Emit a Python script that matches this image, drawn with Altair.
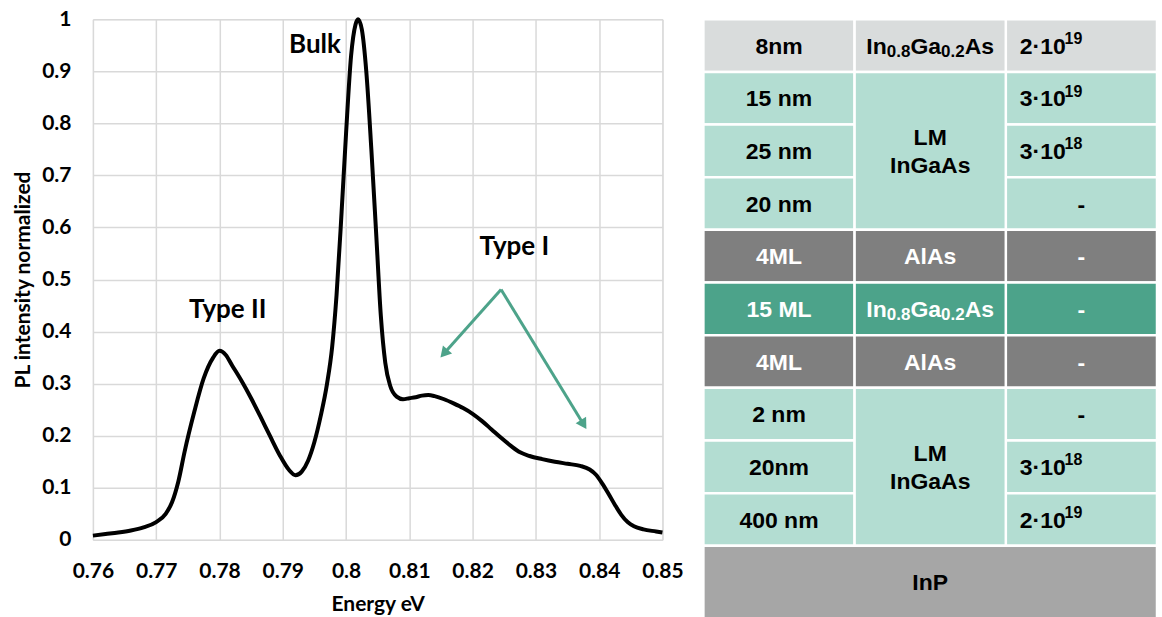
import math
import re
import altair as alt
import pandas as pd

# ---------------- spectrum ----------------
energy = [0.760, 0.762, 0.764, 0.766, 0.768, 0.770, 0.7715, 0.7725, 0.7735, 0.7745, 0.776,
          0.7775, 0.779, 0.780, 0.781, 0.782, 0.7835, 0.785, 0.7865, 0.788, 0.7895,
          0.791, 0.792, 0.793, 0.794, 0.795, 0.796, 0.797, 0.7978, 0.7985, 0.7993,
          0.800, 0.8008, 0.8015, 0.8019, 0.8025, 0.8032, 0.804, 0.8048, 0.8055, 0.8062,
          0.807, 0.808, 0.809, 0.810, 0.811, 0.812, 0.813, 0.814, 0.8155, 0.817,
          0.8185, 0.820, 0.8215, 0.823, 0.8245, 0.826, 0.8275, 0.829, 0.831, 0.833,
          0.835, 0.837, 0.8385, 0.8395, 0.8405, 0.8415, 0.8425, 0.8435, 0.8445, 0.8455,
          0.847, 0.849, 0.850]
intensity = [0.008, 0.011, 0.014, 0.018, 0.024, 0.034, 0.050, 0.072, 0.112, 0.170, 0.245,
             0.310, 0.350, 0.363, 0.355, 0.335, 0.305, 0.272, 0.236, 0.199, 0.163,
             0.134, 0.124, 0.131, 0.152, 0.188, 0.238, 0.300, 0.370, 0.470, 0.630,
             0.780, 0.930, 0.990, 1.000, 0.980, 0.900, 0.750, 0.580, 0.430, 0.340,
             0.295, 0.275, 0.270, 0.272, 0.274, 0.277, 0.278, 0.276, 0.270, 0.262,
             0.253, 0.242, 0.228, 0.212, 0.196, 0.181, 0.168, 0.161, 0.155, 0.150,
             0.146, 0.142, 0.135, 0.125, 0.108, 0.088, 0.067, 0.048, 0.034, 0.026,
             0.020, 0.016, 0.014]

x_ticks = [0.76, 0.77, 0.78, 0.79, 0.80, 0.81, 0.82, 0.83, 0.84, 0.85]
y_ticks = [0, 0.1, 0.2, 0.3, 0.4, 0.5, 0.6, 0.7, 0.8, 0.9, 1]

peak_names = ["Type II", "Bulk", "Type I"]
peak_name_energy = [0.7813, 0.7951, 0.8266]
peak_name_intensity = [0.441, 0.950, 0.562]

arrow_root_energy = 0.8245
arrow_root_intensity = 0.481
arrow_tip_energy = [0.8149, 0.8380]
arrow_tip_intensity = [0.350, 0.2125]

# ---------------- layer stack table ----------------
thickness = ["8nm", "15 nm", "25 nm", "20 nm", "4ML", "15 ML", "4ML", "2 nm", "20nm", "400 nm"]
layer_kind = ["cap", "lm", "lm", "lm", "barrier", "well", "barrier", "lm", "lm", "lm"]
material_label = ["In_{0.8}Ga_{0.2}As", "LM\nInGaAs", "AlAs", "In_{0.8}Ga_{0.2}As", "AlAs", "LM\nInGaAs"]
material_first_row = [0, 1, 4, 5, 6, 7]
material_last_row = [1, 4, 5, 6, 7, 10]
doping = ["2·10^{19}", "3·10^{19}", "3·10^{18}", "-", "-", "-", "-", "-", "3·10^{18}", "2·10^{19}"]
substrate = "InP"

kind_fill = {"cap": "#D9DCDC", "lm": "#B3DDD2", "barrier": "#7F7F7F",
             "well": "#4CA38A", "substrate": "#A6A6A6"}
kind_ink = {"cap": "black", "lm": "black", "barrier": "white",
            "well": "white", "substrate": "black"}

TEAL = "#4DA38A"

# ---------------- geometry ----------------
PLOT_W, PLOT_H = 570, 521
TABLE_W, TABLE_H = 454, 599
ROW_PX = 52.7
Y_MAX = TABLE_H / ROW_PX
COL_PX = TABLE_W / 3.0
PX_PER_E = PLOT_W / (x_ticks[-1] - x_ticks[0])
PX_PER_I = PLOT_H / (y_ticks[-1] - y_ticks[0])

MAIN, SUB, SUP = 23, 17, 16
ARIAL_BOLD = {"0": .556, "1": .556, "2": .556, "3": .556, "4": .556, "5": .556,
              "6": .556, "7": .556, "8": .556, "9": .556, ".": .278, "·": .278,
              "I": .278, "n": .611, "G": .778, "a": .556, "A": .722, "s": .556,
              "l": .278, "L": .611, "M": .833, " ": .278}
SIZE = {"main": MAIN, "sub": SUB, "sup": SUP}


def width(s, size):
    return sum(ARIAL_BOLD.get(c, 0.6) for c in s) * size


def split_rich(s):
    out = []
    for m in re.finditer(r"_\{([^}]*)\}|\^\{([^}]*)\}|([^_^]+)", s):
        if m.group(1):
            out.append((m.group(1), "sub"))
        elif m.group(2):
            out.append((m.group(2), "sup"))
        else:
            out.append((m.group(3), "main"))
    return out


# ---------------- left: spectrum ----------------
spec_df = pd.DataFrame({"energy": energy, "intensity": intensity})
names_df = pd.DataFrame({"energy": peak_name_energy, "intensity": peak_name_intensity,
                         "name": peak_names})

arrow_rows = []
HEAD = 5.5
for te, ti in zip(arrow_tip_energy, arrow_tip_intensity):
    dxp = (te - arrow_root_energy) * PX_PER_E
    dyp = -(ti - arrow_root_intensity) * PX_PER_I
    L = math.hypot(dxp, dyp)
    f = (L - HEAD) / L
    arrow_rows.append({
        "energy": arrow_root_energy, "intensity": arrow_root_intensity,
        "energy2": arrow_root_energy + (te - arrow_root_energy) * f,
        "intensity2": arrow_root_intensity + (ti - arrow_root_intensity) * f,
        "angle": (math.degrees(math.atan2(dxp, -dyp)) + 360) % 360,
    })
arrow_df = pd.DataFrame(arrow_rows)

axis_common = dict(grid=True, gridColor="#D9D9D9", gridWidth=1.5, domain=False,
                   ticks=False, tickSize=0, labelFont="Lato", labelFontWeight="bold",
                   labelFontSize=21, labelColor="black", labelFlush=False,
                   labelOverlap=False, titleFont="Lato", titleFontWeight="bold",
                   titleFontSize=21, titleColor="black", format="~g")


def X(field="energy"):
    return alt.X(f"{field}:Q", title="Energy eV",
                 scale=alt.Scale(domain=[x_ticks[0], x_ticks[-1]], nice=False, zero=False),
                 axis=alt.Axis(values=x_ticks, labelPadding=21, titlePadding=12, **axis_common))


def Y(field="intensity"):
    return alt.Y(f"{field}:Q", title="PL intensity normalized",
                 scale=alt.Scale(domain=[y_ticks[0], y_ticks[-1]], nice=False),
                 axis=alt.Axis(values=y_ticks, labelPadding=22, titlePadding=8, **axis_common))


line = alt.Chart(spec_df).mark_line(color="black", strokeWidth=4,
                                    interpolate="monotone").encode(x=X(), y=Y())
arrows = alt.Chart(arrow_df).mark_rule(color=TEAL, strokeWidth=3).encode(
    x=X(), y=Y(), x2="energy2:Q", y2="intensity2:Q")
heads = alt.Chart(arrow_df).mark_point(shape="triangle-up", filled=True, opacity=1,
                                       color=TEAL, size=150).encode(
    x=X("energy2"), y=Y("intensity2"), angle=alt.Angle("angle:Q", scale=None))
names = alt.Chart(names_df).mark_text(font="Lato", fontWeight="bold", fontSize=26,
                                      baseline="middle", color="black").encode(
    x=X(), y=Y(), text="name:N")

left = alt.layer(line, arrows, heads, names).properties(width=PLOT_W, height=PLOT_H)

# ---------------- right: layer table ----------------
cells = []
for i, k in enumerate(layer_kind):
    cells.append({"x": 0, "x2": 1, "y": i, "y2": i + 1, "fill": kind_fill[k]})
    cells.append({"x": 2, "x2": 3, "y": i, "y2": i + 1, "fill": kind_fill[k]})
for a, b in zip(material_first_row, material_last_row):
    cells.append({"x": 1, "x2": 2, "y": a, "y2": b, "fill": kind_fill[layer_kind[a]]})
cells.append({"x": 0, "x2": 3, "y": 10, "y2": Y_MAX + 0.05, "fill": kind_fill["substrate"]})
cells_df = pd.DataFrame(cells)

centered, rich = [], []


def add_centered(txt, cx, cy, ink):
    lines = txt.split("\n")
    n = len(lines)
    for j, ln in enumerate(lines):
        centered.append({"x": cx, "y": cy + (j - (n - 1) / 2) * 28.5 / ROW_PX,
                         "text": ln, "ink": ink})


def add_rich(txt, x0, cy, ink):
    pos = x0
    for piece, style in split_rich(txt):
        rich.append({"x": pos, "y": cy, "text": piece, "ink": ink, "style": style})
        pos += width(piece, SIZE[style]) / COL_PX


for i, (t, k) in enumerate(zip(thickness, layer_kind)):
    add_centered(t, 0.5, i + 0.5, kind_ink[k])
for lab, a, b in zip(material_label, material_first_row, material_last_row):
    ink = kind_ink[layer_kind[a]]
    cy = (a + b) / 2
    if "_" in lab:
        w = sum(width(p, SIZE[s]) for p, s in split_rich(lab)) / COL_PX
        add_rich(lab, 1.5 - w / 2, cy, ink)
    else:
        add_centered(lab, 1.5, cy, ink)
for i, (d, k) in enumerate(zip(doping, layer_kind)):
    if "^" in d:
        add_rich(d, 2 + 14 / COL_PX, i + 0.5, kind_ink[k])
    else:
        add_centered(d, 2.5, i + 0.5, kind_ink[k])
add_centered(substrate, 1.5, (10 + Y_MAX) / 2, kind_ink["substrate"])

centered_df = pd.DataFrame(centered)
rich_df = pd.DataFrame(rich)

TX = alt.X("x:Q", scale=alt.Scale(domain=[0, 3], nice=False, zero=False), axis=None)
TY = alt.Y("y:Q", scale=alt.Scale(domain=[0, Y_MAX], nice=False, reverse=True), axis=None)

rects = alt.Chart(cells_df).mark_rect(stroke="white", strokeWidth=2.5).encode(
    x=TX, x2="x2:Q", y=TY, y2="y2:Q", color=alt.Color("fill:N", scale=None))

txt_style = dict(font="Liberation Sans", fontWeight="bold", baseline="alphabetic")
ctext = alt.Chart(centered_df).mark_text(align="center", fontSize=MAIN, dy=8.2,
                                         **txt_style).encode(
    x=TX, y=TY, text="text:N", color=alt.Color("ink:N", scale=None))
rtext_main = alt.Chart(rich_df).transform_filter(alt.datum.style == "main").mark_text(
    align="left", fontSize=MAIN, dy=8.2, **txt_style).encode(
    x=TX, y=TY, text="text:N", color=alt.Color("ink:N", scale=None))
rtext_sub = alt.Chart(rich_df).transform_filter(alt.datum.style == "sub").mark_text(
    align="left", fontSize=SUB, dy=11, **txt_style).encode(
    x=TX, y=TY, text="text:N", color=alt.Color("ink:N", scale=None))
rtext_sup = alt.Chart(rich_df).transform_filter(alt.datum.style == "sup").mark_text(
    align="left", fontSize=SUP, dy=-1.5, **txt_style).encode(
    x=TX, y=TY, text="text:N", color=alt.Color("ink:N", scale=None))

right = alt.layer(rects, ctext, rtext_main, rtext_sub, rtext_sup).properties(
    width=TABLE_W, height=TABLE_H)

chart = alt.hconcat(left, right, spacing=41).properties(
    bounds="flush", padding={"left": 12, "top": 7, "right": 3, "bottom": 0}
).configure_view(stroke=None).configure(background="white")

chart.save("out.html", embed_options={"renderer": "svg", "actions": False})
